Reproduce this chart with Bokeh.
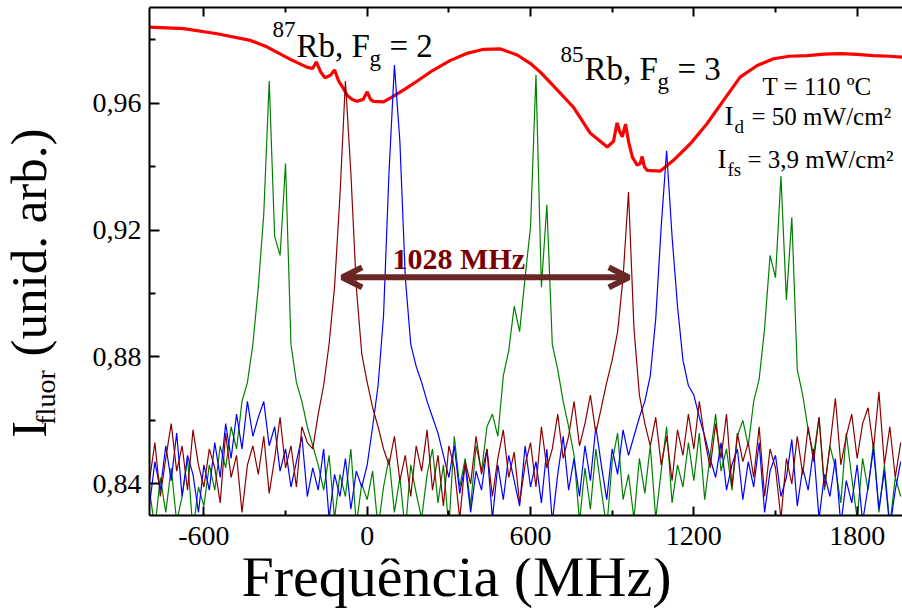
import math
from bokeh.plotting import figure
from bokeh.layouts import row, column
from bokeh.models import FixedTicker, LinearAxis, Label, Arrow, OpenHead, Range1d
from bokeh.embed import file_html
from bokeh.resources import INLINE

# ---------------- data ----------------
freq = list(range(-800, 1961, 20))  # MHz sample grid of the fluorescence traces

green = [
    0.838, 0.826, 0.842, 0.831, 0.845, 0.828, 0.836, 0.848, 0.825, 0.839,
    0.833, 0.846, 0.838, 0.852, 0.845, 0.858, 0.851, 0.866, 0.872, 0.884,
    0.902, 0.925, 0.967, 0.918, 0.912, 0.941, 0.884, 0.872, 0.866, 0.858,
    0.852, 0.846, 0.838, 0.849, 0.829, 0.843, 0.836, 0.851, 0.827, 0.840,
    0.835, 0.844, 0.826, 0.839, 0.848, 0.831, 0.842, 0.825, 0.846, 0.837,
    0.829, 0.843, 0.851, 0.834, 0.846, 0.826, 0.855, 0.839, 0.848, 0.833,
    0.852, 0.844, 0.858, 0.862, 0.855, 0.874, 0.882, 0.896, 0.888, 0.905,
    0.921, 0.969, 0.902, 0.928, 0.884, 0.876, 0.866, 0.858, 0.849, 0.828,
    0.845, 0.832, 0.851, 0.838, 0.826, 0.847, 0.856, 0.835, 0.843, 0.829,
    0.848, 0.837, 0.852, 0.829, 0.844, 0.858, 0.834, 0.846, 0.839, 0.853,
    0.841, 0.856, 0.835, 0.849, 0.862, 0.844, 0.851, 0.838, 0.855, 0.860,
    0.852, 0.866, 0.873, 0.889, 0.912, 0.905, 0.937, 0.898, 0.924, 0.876,
    0.868, 0.857, 0.849, 0.861, 0.838, 0.852, 0.845, 0.834, 0.856, 0.842,
    0.829, 0.848, 0.838, 0.853, 0.831, 0.846, 0.827, 0.842, 0.836,
]

blue = [
    0.833, 0.847, 0.838, 0.852, 0.841, 0.856, 0.836, 0.849, 0.843, 0.831,
    0.846, 0.838, 0.853, 0.842, 0.859, 0.848, 0.862, 0.851, 0.866, 0.855,
    0.861, 0.866, 0.852, 0.858, 0.844, 0.851, 0.839, 0.847, 0.855, 0.836,
    0.845, 0.838, 0.851, 0.829, 0.843, 0.836, 0.848, 0.832, 0.844, 0.839,
    0.846, 0.858, 0.871, 0.893, 0.938, 0.972, 0.948, 0.905, 0.884, 0.877,
    0.872, 0.866, 0.861, 0.856, 0.849, 0.842, 0.852, 0.837, 0.846, 0.831,
    0.844, 0.838, 0.851, 0.829, 0.846, 0.835, 0.849, 0.841, 0.833, 0.852,
    0.839, 0.847, 0.834, 0.851, 0.828, 0.843, 0.855, 0.838, 0.848, 0.836,
    0.852, 0.841, 0.858, 0.846, 0.835, 0.851, 0.843, 0.857, 0.849, 0.855,
    0.861, 0.866, 0.874, 0.892, 0.921, 0.945, 0.918, 0.896, 0.879, 0.871,
    0.868, 0.861, 0.855, 0.848, 0.842, 0.853, 0.838, 0.846, 0.851, 0.835,
    0.847, 0.839, 0.853, 0.831, 0.844, 0.849, 0.836, 0.842, 0.854, 0.833,
    0.845, 0.838, 0.851, 0.829, 0.843, 0.836, 0.848, 0.827, 0.841, 0.834,
    0.846, 0.828, 0.839, 0.851, 0.832, 0.844, 0.826, 0.838, 0.847,
]

maroon = [
    0.841, 0.853, 0.836, 0.848, 0.859, 0.844, 0.852, 0.838, 0.857, 0.846,
    0.839, 0.851, 0.845, 0.834, 0.856, 0.842, 0.849, 0.831, 0.846, 0.852,
    0.843, 0.855, 0.837, 0.848, 0.861, 0.845, 0.852, 0.839, 0.858, 0.853,
    0.851, 0.862, 0.871, 0.884, 0.902, 0.931, 0.967, 0.938, 0.902, 0.881,
    0.872, 0.864, 0.858, 0.851, 0.846, 0.855, 0.841, 0.849, 0.836, 0.852,
    0.844, 0.857, 0.838, 0.849, 0.833, 0.852, 0.845, 0.829, 0.847, 0.840,
    0.855, 0.843, 0.851, 0.836, 0.848, 0.857, 0.842, 0.850, 0.834, 0.846,
    0.853, 0.839, 0.858, 0.845, 0.851, 0.862, 0.848, 0.855, 0.866, 0.852,
    0.859, 0.868, 0.856, 0.864, 0.872, 0.879, 0.888, 0.905, 0.932, 0.889,
    0.868, 0.859, 0.852, 0.861, 0.846, 0.855, 0.841, 0.857, 0.849, 0.862,
    0.851, 0.866, 0.854, 0.845, 0.859, 0.848, 0.862, 0.839, 0.856, 0.847,
    0.853, 0.842, 0.858, 0.836, 0.851, 0.845, 0.829, 0.848, 0.840, 0.855,
    0.843, 0.858, 0.847, 0.861, 0.839, 0.852, 0.867, 0.846, 0.855, 0.862,
    0.848, 0.859, 0.864, 0.851, 0.869, 0.846, 0.858, 0.842, 0.853,
]

abs_freq = [
    -800, -674, -551, -429, -367, -282, -220, -200, -187, -172,
    -155, -135, -120, -105, -87, -73, -55, -37, -15, 0,
    12, 23, 60, 97, 140, 184, 240, 306, 370, 428,
    490, 551, 600, 636, 673, 720, 758, 820, 882, 905,
    918, 928, 937, 949, 960, 974, 992, 1003, 1010, 1018,
    1029, 1077, 1125, 1188, 1249, 1309, 1370, 1433, 1493, 1550,
    1616, 1680, 1739, 1800, 1860, 1920, 1966,
]
abs_signal = [
    0.9840, 0.9835, 0.9819, 0.9798, 0.9777, 0.9738, 0.9713, 0.9710, 0.9730, 0.9700,
    0.9680, 0.9688, 0.9705, 0.9670, 0.9646, 0.9624, 0.9612, 0.9606, 0.9612, 0.9636,
    0.9612, 0.9606, 0.9604, 0.9622, 0.9645, 0.9670, 0.9703, 0.9735, 0.9758, 0.9770,
    0.9771, 0.9752, 0.9725, 0.9698, 0.9665, 0.9622, 0.9587, 0.9505, 0.9462, 0.9480,
    0.9538, 0.9510, 0.9494, 0.9534, 0.9480, 0.9430, 0.9405, 0.9410, 0.9432, 0.9400,
    0.9388, 0.9386, 0.9420, 0.9473, 0.9536, 0.9609, 0.9682, 0.9719, 0.9740, 0.9748,
    0.9750, 0.9755, 0.9756, 0.9754, 0.9750, 0.9748, 0.9745,
]

assert len(green) == len(freq) and len(blue) == len(freq) and len(maroon) == len(freq)
assert len(abs_freq) == len(abs_signal)

x_major = [-600, 0, 600, 1200, 1800]
x_labels = ["-600", "0", "600", "1200", "1800"]
x_minor = [-300, 300, 900, 1500]
y_major = [0.84, 0.88, 0.92, 0.96]
y_labels = ["0,84", "0,88", "0,92", "0,96"]
y_minor = [0.86, 0.90, 0.94, 0.98]

arrow_from = -92.0   # MHz
arrow_to = 961.0     # MHz
arrow_level = 0.9051
gap_label = "1028 MHz"

x_title = "Frequ\u00eancia (MHz)"
y_title_main = "I"
y_title_sub = "fluor"
y_title_rest = "(unid. arb.)"

# ---------------- page-pixel helpers (for text placement) ----------------
PX0, PXS = 366.7, 0.2722     # page x of 0 MHz, px per MHz
PY0, PYS = 102.7, 3172.0     # page y of 0.96, px per unit
BASE_FIX = 0.35              # renderer draws "alphabetic" ~0.35em low; lift anchors


def dx(px):
    return (px - PX0) / PXS


def dy(py):
    return 0.96 + (PY0 - py) / PYS


FONT = "Liberation Serif"
W, H = 902, 610
YLAB_W = 64          # width of the strip holding the y title
XLAB_H = 52          # height of the strip holding the x title
MAIN_W, MAIN_H = W - YLAB_W, H - XLAB_H
FRAME_L, FRAME_T, FRAME_B = 149, 7, 515

yrange = Range1d(dy(FRAME_B), dy(FRAME_T))
p = figure(width=MAIN_W, height=MAIN_H,
           x_range=Range1d(dx(FRAME_L), dx(W)), y_range=yrange,
           output_backend="svg", toolbar_location=None,
           min_border_left=FRAME_L - YLAB_W, min_border_right=0,
           min_border_top=FRAME_T, min_border_bottom=MAIN_H - FRAME_B,
           background_fill_color="white", border_fill_color="white",
           outline_line_color=None)
p.xgrid.visible = False
p.ygrid.visible = False

xticker = FixedTicker(ticks=x_major, minor_ticks=x_minor)
yticker = FixedTicker(ticks=y_major, minor_ticks=y_minor)


def style_axis(ax, tin, mtin):
    ax.axis_line_width = 2
    ax.axis_line_color = "black"
    ax.major_tick_line_width = 2
    ax.minor_tick_line_width = 2
    ax.major_tick_in = tin
    ax.major_tick_out = 0
    ax.minor_tick_in = mtin
    ax.minor_tick_out = 0
    ax.major_label_text_font = FONT
    ax.major_label_text_font_size = "28px"
    ax.major_label_text_color = "black"


xa = p.xaxis[0]
xa.ticker = xticker
xa.major_label_overrides = dict(zip(x_major, x_labels))
style_axis(xa, 9, 5)
xa.major_label_standoff = 11

ya = p.yaxis[0]
ya.ticker = yticker
ya.major_label_overrides = dict(zip(y_major, y_labels))
style_axis(ya, 10, 6)
ya.major_label_standoff = 8

top = LinearAxis(ticker=xticker)
style_axis(top, 9, 5)
top.major_label_text_font_size = "1px"
top.major_label_text_color = None
top.major_label_standoff = 0
p.add_layout(top, "above")

# ---------------- curves ----------------
p.line(abs_freq, abs_signal, line_color="#ff0000", line_width=3.2)
p.line(freq, green, line_color="#008000", line_width=1.2)
p.line(freq, blue, line_color="#0000ff", line_width=1.2)
p.line(freq, maroon, line_color="#8b0000", line_width=1.2)

# ---------------- arrow + gap label ----------------
acol = "#6b2626"
p.add_layout(Arrow(start=OpenHead(size=20, line_width=6, line_color=acol),
                   end=OpenHead(size=20, line_width=6, line_color=acol),
                   x_start=arrow_from, y_start=arrow_level, x_end=arrow_to, y_end=arrow_level,
                   line_width=6, line_color=acol))


def add_label(fig, s, x, y, size, angle=0.0, bold=False, color="black",
              align="left", baseline="alphabetic"):
    fig.add_layout(Label(x=x, y=y, text=s, text_font=FONT,
                         text_font_size=f"{size}px", text_align=align,
                         text_baseline=baseline, text_color=color, angle=angle,
                         text_font_style="bold" if bold else "normal"))


def txt(s, px, py, size, bold=False, color="black"):
    # (px, py): page position of the text's left end on its baseline
    add_label(p, s, dx(px), dy(py - BASE_FIX * size), size, bold=bold, color=color)


txt(gap_label, 392, 268, 30, bold=True, color="#7a0000")

# isotope labels
txt("87", 272, 37, 23)
txt("Rb, F", 296, 57, 33)
txt("g", 369, 66, 23)
txt("= 2", 389, 57, 33)

txt("85", 560, 62, 23)
txt("Rb, F", 584, 80, 33)
txt("g", 657, 89, 23)
txt("= 3", 677, 80, 33)

# experimental parameters
txt("T = 110 \u00baC", 762, 95, 25)
txt("I", 724, 125, 27)
txt("d", 734, 133, 19)
txt("= 50 mW/cm\u00b2", 751, 125, 25)
txt("I", 717, 168, 27)
txt("fs", 727, 176, 19)
txt("= 3,9 mW/cm\u00b2", 747, 168, 25)


# ---------------- title strips ----------------
def strip(w, h, y_range, top_b=0, bottom_b=0):
    return figure(width=w, height=h, x_range=Range1d(0, w), y_range=y_range,
                  x_axis_type=None, y_axis_type=None, output_backend="svg",
                  toolbar_location=None, min_border_left=0, min_border_right=0,
                  min_border_top=top_b, min_border_bottom=bottom_b,
                  outline_line_color=None,
                  background_fill_color="white", border_fill_color="white")


# y-title strip shares the main plot's vertical scale (same frame top/bottom)
yfig = strip(YLAB_W, MAIN_H, yrange, FRAME_T, MAIN_H - FRAME_B)
rot = math.pi / 2
# (text, page x of the text centre, page y of the text centre, size) -- rotated 90 deg
for s, cx, cy, size in [(y_title_main, 28, 429, 50),
                        (y_title_sub, 45, 397, 28),
                        (y_title_rest, 28, 242, 51)]:
    add_label(yfig, s, cx, dy(cy), size, angle=rot, align="center", baseline="middle")

xfig = strip(W, XLAB_H, Range1d(0, XLAB_H))
add_label(xfig, x_title, 456, H - (596 - BASE_FIX * 58), 58, align="center")

layout = column(row(yfig, p, spacing=0), xfig, spacing=0)

open("out.html", "w").write(file_html(layout, INLINE))
